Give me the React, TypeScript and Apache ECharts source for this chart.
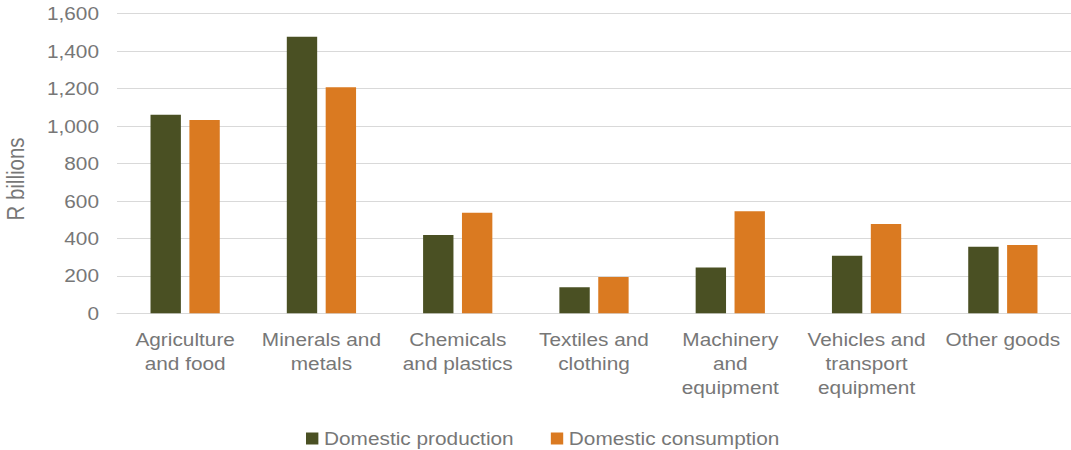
import React, { useEffect, useRef } from "react";
import * as echarts from "echarts";

const categories = [
  "Agriculture\nand food",
  "Minerals and\nmetals",
  "Chemicals\nand plastics",
  "Textiles and\nclothing",
  "Machinery\nand\nequipment",
  "Vehicles and\ntransport\nequipment",
  "Other goods",
];
const domesticProduction = [1060, 1477, 418, 139, 244, 308, 356];
const domesticConsumption = [1032, 1207, 537, 194, 545, 477, 365];
const yTicks = { min: 0, max: 1600, interval: 200 };

const FONT = '"Liberation Sans", Arial, sans-serif';
const TEXT = "#777777";
const GRID = "#D9D9D9";
const OLIVE = "#4A5023";
const ORANGE = "#DA7A21";

// The chart is laid out on a narrower canvas and widened horizontally.
const STRETCH = 1.125;
const OUTER_W = 1071;
const H = 450;
const INNER_W = Math.round(OUTER_W / STRETCH);

export default function App() {
  const ref = useRef<HTMLDivElement>(null);

  useEffect(() => {
    if (!ref.current) return;
    const chart = echarts.init(ref.current, undefined, { renderer: "svg" });
    chart.setOption({
      animation: false,
      backgroundColor: "#ffffff",
      textStyle: { fontFamily: FONT },
      grid: { left: 104, right: 0, top: 13.7, bottom: 136.7, containLabel: false },
      legend: {
        left: 267,
        top: 424,
        itemWidth: 11,
        itemHeight: 12,
        itemGap: 33,
        icon: "rect",
        textStyle: { color: TEXT, fontSize: 18.5, fontFamily: FONT },
        data: ["Domestic production", "Domestic consumption"],
      },
      graphic: [
        {
          type: "text",
          x: 14,
          y: 179,
          rotation: Math.PI / 2,
          style: {
            text: "R billions",
            fill: TEXT,
            font: `20.5px ${FONT}`,
            align: "center",
            verticalAlign: "middle",
          },
        },
      ],
      xAxis: {
        type: "category",
        data: categories,
        axisLine: { show: true, lineStyle: { color: GRID, width: 1 } },
        axisTick: { show: false },
        axisLabel: {
          color: TEXT,
          fontSize: 18.5,
          fontFamily: FONT,
          lineHeight: 24,
          margin: 14,
          interval: 0,
          align: "center",
        },
      },
      yAxis: {
        type: "value",
        min: yTicks.min,
        max: yTicks.max,
        interval: yTicks.interval,
        axisLine: { show: false },
        axisTick: { show: false },
        splitLine: { lineStyle: { color: GRID, width: 1 } },
        axisLabel: {
          color: TEXT,
          fontSize: 18.5,
          fontFamily: FONT,
          margin: 16,
          formatter: (v: number) => v.toLocaleString("en-US"),
        },
      },
      series: [
        {
          name: "Domestic production",
          type: "bar",
          data: domesticProduction,
          barWidth: 27,
          barGap: "28%",
          itemStyle: { color: OLIVE },
        },
        {
          name: "Domestic consumption",
          type: "bar",
          data: domesticConsumption,
          barWidth: 27,
          barGap: "28%",
          itemStyle: { color: ORANGE },
        },
      ],
    });
    return () => chart.dispose();
  }, []);

  return (
    <div
      style={{
        position: "fixed",
        left: 0,
        top: 0,
        width: OUTER_W,
        height: H,
        overflow: "hidden",
        background: "#fff",
      }}
    >
      <div
        ref={ref}
        style={{
          width: INNER_W,
          height: H,
          transform: `scaleX(${STRETCH})`,
          transformOrigin: "0 0",
        }}
      />
    </div>
  );
}
